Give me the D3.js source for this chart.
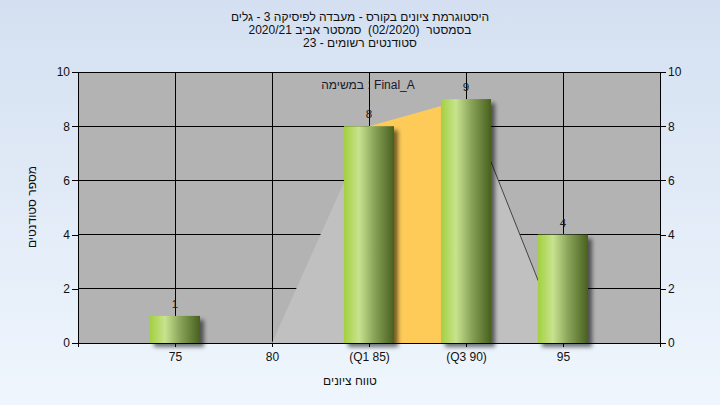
<!DOCTYPE html>
<html><head><meta charset="utf-8">
<script src="https://cdn.jsdelivr.net/npm/d3@7/dist/d3.min.js"></script>
<style>body{margin:0;padding:0;overflow:hidden}svg{display:block}text{white-space:pre}</style>
</head><body>
<svg id="chart" width="720" height="405"></svg>
<script>
// ---- data ----
const titleLines = [
  "היסטוגרמת ציונים בקורס - מעבדה לפיסיקה 3 - גלים",
  "בסמסטר  (02/2020)  סמסטר אביב 2020/21",
  "סטודנטים רשומים - 23"
];
const categories = [75, 80, 85, 90, 95];
const tickLabels = ["75", "80", "(Q1 85)", "(Q3 90)", "95"];
const counts = [1, 0, 8, 9, 4];
const yTicks = [0, 2, 4, 6, 8, 10];
const boxMin = 80, boxQ1 = 85, boxQ3 = 90, boxMax = 95;
const boxQ1Val = 8, boxQ3Val = 9;
const seriesLabel = "במשימה : Final_A";
const xTitle = "טווח ציונים";
const yTitle = "מספר סטודנטים";

// ---- layout ----
const W = 720, H = 405;
const L = 78, R = 660, T = 72, B = 343;
const svg = d3.select("#chart");
const font = "'Liberation Sans', Arial, sans-serif";

const defs = svg.append("defs");
const bg = defs.append("linearGradient").attr("id","bg").attr("x1",0).attr("y1",0).attr("x2",0).attr("y2",1);
bg.append("stop").attr("offset","0%").attr("stop-color","#d4e0f1");
bg.append("stop").attr("offset","100%").attr("stop-color","#eff6fd");
const bar = defs.append("linearGradient").attr("id","bar").attr("x1",0).attr("y1",0).attr("x2",1).attr("y2",0);
bar.append("stop").attr("offset","0%").attr("stop-color","#a3d040");
bar.append("stop").attr("offset","30%").attr("stop-color","#c8e38e");
bar.append("stop").attr("offset","60%").attr("stop-color","#8aa55a");
bar.append("stop").attr("offset","100%").attr("stop-color","#48601e");
const sh = defs.append("filter").attr("id","shadow").attr("x","-20%").attr("y","-20%").attr("width","150%").attr("height","150%");
sh.append("feDropShadow").attr("dx",4).attr("dy",4).attr("stdDeviation",2.2).attr("flood-color","#000").attr("flood-opacity",0.55);

svg.append("rect").attr("width",W).attr("height",H).attr("fill","url(#bg)");

const x = d3.scaleLinear().domain([70, 100]).range([L, R]);
const y = d3.scaleLinear().domain([0, 10]).range([B, T]);

// plot background
svg.append("rect").attr("x",L).attr("y",T).attr("width",R-L).attr("height",B-T).attr("fill","#b3b3b3");

// grid
svg.append("g").selectAll("line").data(yTicks).join("line")
  .attr("x1",L).attr("x2",R).attr("y1",d=>y(d)).attr("y2",d=>y(d))
  .attr("stroke","#000").attr("stroke-width",1).attr("shape-rendering","crispEdges");
svg.append("g").selectAll("line").data(categories).join("line")
  .attr("x1",d=>x(d)).attr("x2",d=>x(d)).attr("y1",T).attr("y2",B)
  .attr("stroke","#000").attr("stroke-width",1).attr("shape-rendering","crispEdges");

// box shape
const lightPts = [[[boxMin,0],[boxQ1,boxQ1Val],[boxQ1,0]], [[boxQ3,0],[boxQ3,boxQ3Val],[boxMax,0]]];
svg.append("g").selectAll("path").data(lightPts).join("path")
  .attr("d", d => d3.line().x(p=>x(p[0])).y(p=>y(p[1]))(d) + "Z")
  .attr("fill","#c0c0c0");
svg.append("path")
  .attr("d", d3.line().x(p=>x(p[0])).y(p=>y(p[1]))([[boxQ1,0],[boxQ1,boxQ1Val],[boxQ3,boxQ3Val],[boxQ3,0]]) + "Z")
  .attr("fill","#fecb59");
svg.append("line")
  .attr("x1",x(boxQ3)).attr("y1",y(boxQ3Val)).attr("x2",x(boxMax)).attr("y2",y(0))
  .attr("stroke","#444").attr("stroke-width",1);

// axes lines
const axisG = svg.append("g").attr("shape-rendering","crispEdges");
axisG.append("line").attr("x1",L).attr("x2",R).attr("y1",B).attr("y2",B).attr("stroke","#000");
axisG.append("line").attr("x1",L).attr("x2",L).attr("y1",T).attr("y2",B).attr("stroke","#000");
axisG.append("line").attr("x1",R).attr("x2",R).attr("y1",T).attr("y2",B).attr("stroke","#000");

// bars
const bw = 50;
const barData = categories.map((c,i)=>({c, v:counts[i], label:tickLabels[i]}));
svg.append("g").selectAll("rect").data(barData.filter(d=>d.v>0)).join("rect")
  .attr("x",d=>x(d.c)-bw/2).attr("y",d=>y(d.v)).attr("width",bw).attr("height",d=>y(0)-y(d.v))
  .attr("fill","url(#bar)").attr("filter","url(#shadow)");

// value labels
svg.append("g").selectAll("text").data(barData.filter(d=>d.v>0)).join("text")
  .attr("x",d=>x(d.c)).attr("y",d=>y(d.v)-8).attr("text-anchor","middle")
  .attr("font-family",font).attr("font-size",11.5).attr("fill","#1a1a1a").text(d=>d.v);

// y axes
const yl = d3.axisLeft(y).tickValues(yTicks).tickSize(6).tickSizeOuter(0);
const gl = svg.append("g").attr("transform",`translate(${L},0)`).call(yl);
const yr = d3.axisRight(y).tickValues(yTicks).tickSize(6).tickSizeOuter(0);
const gr = svg.append("g").attr("transform",`translate(${R},0)`).call(yr);
// x axis
const xa = d3.axisBottom(x).tickValues([70, ...categories, 100]).tickSize(4).tickSizeOuter(0)
  .tickFormat(d => { const i = categories.indexOf(d); return i >= 0 ? tickLabels[i] : ""; });
const gx = svg.append("g").attr("transform",`translate(0,${B})`).call(xa);
[gl, gr, gx].forEach(g => {
  g.select(".domain").remove();
  g.selectAll("line").attr("stroke","#000").attr("shape-rendering","crispEdges");
  g.selectAll("text").attr("font-family",font).attr("font-size",12).attr("fill","#111");
});
gl.selectAll("text").attr("x",-8);
gr.selectAll("text").attr("x",8);
gx.selectAll("text").attr("y",9);

// series label
svg.append("text").attr("x",368).attr("y",89).attr("text-anchor","middle")
  .attr("font-family",font).attr("font-size",12).attr("fill","#1a1a2a").text(seriesLabel);

// titles
svg.append("g").selectAll("text").data(titleLines).join("text")
  .attr("x",360).attr("y",(d,i)=>21+i*13).attr("text-anchor","middle")
  .attr("font-family",font).attr("font-size",12).attr("fill","#111").text(d=>d);

svg.append("text").attr("x",350).attr("y",385).attr("text-anchor","middle")
  .attr("font-family",font).attr("font-size",12).attr("fill","#111").text(xTitle);
svg.append("text").attr("transform","translate(36,207) rotate(-90)").attr("text-anchor","middle")
  .attr("font-family",font).attr("font-size",12).attr("fill","#111").text(yTitle);
</script>
</body></html>
